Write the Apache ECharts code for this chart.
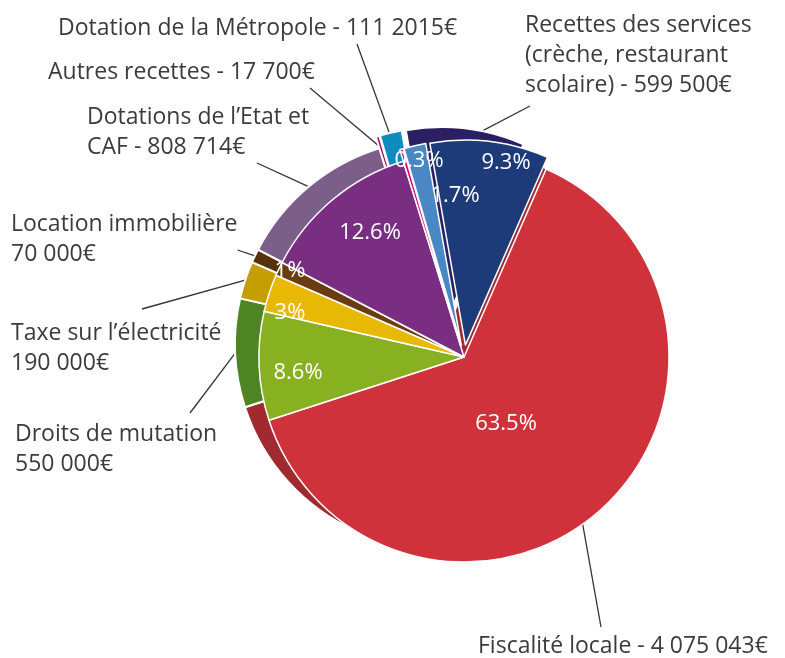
<!DOCTYPE html>
<html>
<head>
<meta charset="utf-8">
<script src="https://cdn.jsdelivr.net/npm/echarts@6/dist/echarts.min.js"></script>
<style>
html, body { margin: 0; padding: 0; background: #fff; }
#chart { width: 785px; height: 658px; }
</style>
</head>
<body>
<div id="chart"></div>
<script>
// recettes de fonctionnement (euros)
var categories = ['Recettes des services', 'Fiscalité locale', 'Droits de mutation', 'Taxe sur l’électricité',
    'Location immobilière', 'Dotations de l’Etat et CAF', 'Autres recettes', 'Dotation de la Métropole'];
var amounts = [599500, 4075043, 550000, 190000, 70000, 808714, 17700, 111215];
var pctLabels = ['9.3%', '63.5%', '8.6%', '3%', '1%', '12.6%', '0.3%', '1.7%'];
var nameLabels = [
    'Recettes des services\n(crèche, restaurant\nscolaire) - 599 500€',
    'Fiscalité locale - 4 075 043€',
    'Droits de mutation\n550 000€',
    'Taxe sur l’électricité\n190 000€',
    'Location immobilière\n70 000€',
    'Dotations de l’Etat et\nCAF - 808 714€',
    'Autres recettes - 17 700€',
    'Dotation de la Métropole - 111 2015€'
];
var exploded = [true, false, false, false, false, false, true, true];

// styles
var faceColors = ['#1e3b79', '#d0323c', '#87b121', '#e7b904', '#6a3c11', '#7a2e81', '#d4036e', '#4a87c5'];
var sideColors = ['#2a1f62', '#a02a30', '#4e8424', '#c49e02', '#57300c', '#7c5f89', '#ad005a', '#0e8cbf'];

// label layout: text top-left, side the leader line leaves from, end point of the line
var textPos = [[525, 10], [478, 631], [15, 419], [11, 318], [11, 209], [87, 102], [48, 57], [58, 13]];
var lineSide = ['bottom', 'top', 'top', 'top', 'right', 'bottom', 'bottom', 'bottom'];
var lineEnd = [[530, 106], [601, 627], [190, 413], [142, 309], [232, 250], [257, 163], [310, 88], [357, 44]];
var pctPos = [[506, 163], [506, 424], [298, 373], [290, 313], [290, 271], [370, 233], [419, 161], [455, 196]];

var FONT = 'Open Sans';
var FS = 23, LH = 30;
var FRONT = [464, 357], BACK = [440, 344], R = 205;

var ctx = document.createElement('canvas').getContext('2d');
ctx.font = FS + 'px ' + FONT;

// padding so that only the chosen side of the label box lies near the slice
function textBox(i) {
    var lines = nameLabels[i].split('\n');
    var w = 0;
    lines.forEach(function (l) { w = Math.max(w, ctx.measureText(l).width); });
    var h = lines.length * LH;
    var tx = textPos[i][0], ty = textPos[i][1];
    var ax = lineEnd[i][0], ay = lineEnd[i][1];
    var B = 400;
    var p = [B, B, B, B]; // top right bottom left
    var side = lineSide[i];
    if (side === 'top' || side === 'bottom') {
        var d = 2 * (ax - tx - w / 2);
        p[1] = B + Math.max(d, 0);
        p[3] = B + Math.max(-d, 0);
        if (side === 'top') p[0] = Math.max(ty - ay, 0); else p[2] = Math.max(ay - ty - h, 0);
    } else {
        var e = 2 * (ay - ty - h / 2);
        p[2] = B + Math.max(e, 0);
        p[0] = B + Math.max(-e, 0);
        if (side === 'left') p[3] = Math.max(tx - ax, 0); else p[1] = Math.max(ax - tx - w, 0);
    }
    return { x: tx - p[3], y: ty - p[0], padding: p };
}

var boxes = categories.map(function (c, i) { return textBox(i); });

function sliceData(colors) {
    return categories.map(function (c, i) {
        return { name: c, value: amounts[i], selected: exploded[i], itemStyle: { color: colors[i] } };
    });
}
var nameData = categories.map(function (c, i) {
    return { name: c, value: amounts[i], label: { formatter: nameLabels[i], padding: boxes[i].padding } };
});
var pctData = categories.map(function (c, i) {
    return { name: c, value: amounts[i], label: { formatter: pctLabels[i] } };
});

var base = {
    type: 'pie', radius: R, startAngle: 100, clockwise: true,
    avoidLabelOverlap: false, emphasis: { disabled: true }, silent: true
};

var myChart = echarts.init(document.getElementById('chart'));

var option = {
    animation: false,
    series: [
        // lignes de rappel + libelles (sous le camembert)
        Object.assign({}, base, {
            z: 0, center: BACK,
            itemStyle: { color: 'rgba(0,0,0,0)', borderWidth: 0 },
            label: {
                show: true, position: 'outside',
                color: '#3b3b3b', fontFamily: FONT, fontSize: FS, lineHeight: LH,
                backgroundColor: 'rgba(255,255,255,0)'
            },
            labelLine: { show: true, length: 10, length2: 0, smooth: false, lineStyle: { color: '#333', width: 1.3 } },
            labelLayout: function (p) {
                var b = boxes[p.dataIndex];
                return { x: b.x, y: b.y, align: 'left', verticalAlign: 'top' };
            },
            data: nameData
        }),
        // epaisseur
        Object.assign({}, base, {
            z: 1, center: BACK,
            selectedMode: 'multiple', selectedOffset: 12,
            itemStyle: { borderColor: '#fff', borderWidth: 2 },
            label: { show: false }, labelLine: { show: false },
            data: sliceData(sideColors)
        }),
        // face
        Object.assign({}, base, {
            z: 2, center: FRONT,
            selectedMode: 'multiple', selectedOffset: 12,
            itemStyle: { borderColor: '#fff', borderWidth: 1.5 },
            label: { show: false }, labelLine: { show: false },
            data: sliceData(faceColors)
        }),
        // pourcentages
        Object.assign({}, base, {
            z: 3, center: FRONT,
            itemStyle: { color: 'rgba(0,0,0,0)', borderWidth: 0 },
            label: { show: true, position: 'inside', color: '#fff', fontFamily: FONT, fontSize: 22 },
            labelLine: { show: false },
            labelLayout: function (p) {
                var q = pctPos[p.dataIndex];
                return { x: q[0], y: q[1], align: 'center', verticalAlign: 'middle' };
            },
            data: pctData
        })
    ]
};

myChart.setOption(option);
</script>
</body>
</html>
